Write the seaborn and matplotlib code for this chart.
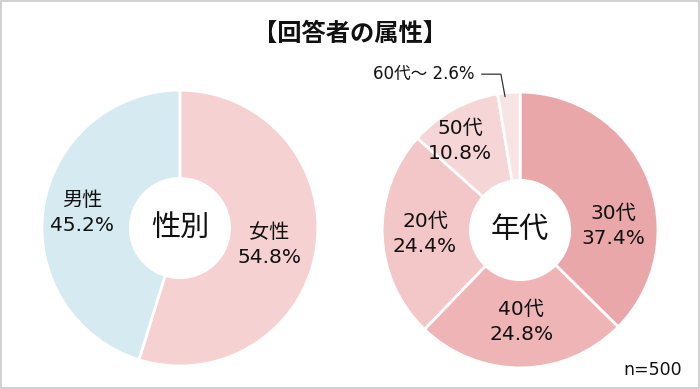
import numpy as np
import matplotlib.pyplot as plt
import seaborn as sns
from matplotlib.patches import Rectangle

sns.set_theme(style="white")
plt.rcParams["font.family"] = ["Noto Sans CJK JP", "DejaVu Sans"]
label_font = ["DejaVu Sans", "Noto Sans CJK JP"]

title = "【回答者の属性】"
gender_labels = ["女性", "男性"]
gender_values = [54.8, 45.2]
gender_colors = ["#f5d1d2", "#d6eaf1"]

age_labels = ["30代", "40代", "20代", "50代", "60代～"]
age_values = [37.4, 24.8, 24.4, 10.8, 2.6]
age_colors = ["#eaa7a9", "#efb4b6", "#f3c6c7", "#f6d5d6", "#f9e4e5"]

fig = plt.figure(figsize=(7, 3.89), dpi=100)
fig.patch.set_facecolor("white")
fig.add_artist(Rectangle((0.001, 0.002), 0.997, 0.995, transform=fig.transFigure,
                         fill=False, edgecolor="#c8c8c8", linewidth=1.2))

fig.text(0.5, 0.913, title, ha="center", va="center", fontsize=17.5, fontweight="bold", color="#111111")


def donut(ax, values, labels, colors, center_text, label_r, label_shift):
    wedges, _ = ax.pie(values, colors=colors, startangle=90, counterclock=False,
                       radius=1.0, wedgeprops=dict(width=0.64, edgecolor="white", linewidth=2))
    ax.set_xlim(-1, 1)
    ax.set_ylim(-1, 1)
    ax.set_aspect("equal")
    ax.axis("off")
    ax.text(0, 0, center_text, ha="center", va="center", fontsize=21, color="#111111")
    for w, lab, val, r, sh in zip(wedges, labels, values, label_r, label_shift):
        if r is None:
            continue
        ang = np.deg2rad((w.theta1 + w.theta2) / 2 + sh)
        ax.text(r * np.cos(ang), r * np.sin(ang), f"{lab}\n{val:.1f}%", ha="center", va="center",
                fontsize=14.5, color="#111111", linespacing=1.4, family=label_font)
    return wedges


ax1 = fig.add_axes([0.06, 0.059, 0.394, 0.7095])
donut(ax1, gender_values, gender_labels, gender_colors, "性別", [0.66, 0.72], [-2, 0])

ax2 = fig.add_axes([0.546, 0.054, 0.394, 0.7095])
w2 = donut(ax2, age_values, age_labels, age_colors, "年代",
           [0.68, 0.67, 0.69, 0.78, None], [-20, 0, 0, 5, 0])

# small slice label with leader line
last = w2[-1]
ang = np.deg2rad((last.theta1 + last.theta2) / 2)
px, py = 0.97 * np.cos(ang), 0.97 * np.sin(ang)
ax2.plot([px - 0.03, px - 0.06, px - 0.2], [py, 1.13, 1.13], color="#333333", lw=0.9, clip_on=False)
ax2.text(px - 0.25, 1.13, f"{age_labels[-1]} {age_values[-1]:.1f}%", ha="right", va="center",
         fontsize=12, color="#111111", family=label_font)

fig.text(0.974, 0.049, "n=500", ha="right", va="center", fontsize=12.5, color="#111111",
         family=label_font)

fig.savefig("out.png", dpi=100, facecolor="white")
